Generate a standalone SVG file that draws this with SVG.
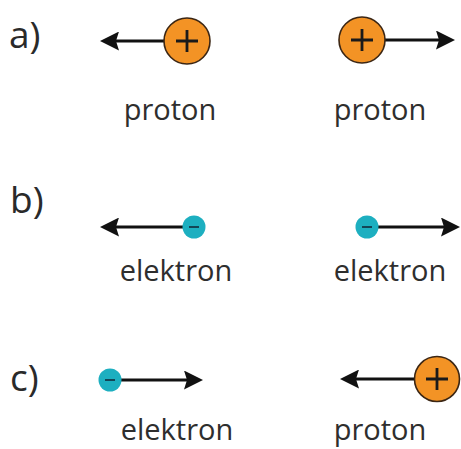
<svg xmlns="http://www.w3.org/2000/svg" width="461" height="449" viewBox="0 0 461 449">
  <defs>
    <marker id="ah" viewBox="0 0 19 19" refX="8" refY="9.5" markerWidth="19" markerHeight="19" markerUnits="userSpaceOnUse" orient="auto">
      <path d="M0,0 L19,9.5 L0,19 L3,9.5 z" fill="#111"/>
    </marker>
  </defs>
  <style>
    .lbl { font-family: "Open Sans", "Noto Sans", sans-serif; font-size: 37px; fill: #2a2a2a; }
    .txt { font-family: "Open Sans", "Noto Sans", sans-serif; font-size: 29px; fill: #2e2e2e; text-anchor: middle; }
    .arr { stroke: #111; stroke-width: 3.2; fill: none; marker-end: url(#ah); }
    .p { fill: #F39325; stroke: #3b2614; stroke-width: 1.6; }
    .e { fill: #1DAFC0; }
    .sign { stroke: #1a1a1a; stroke-width: 2.8; fill: none; }
    .esign { stroke: #123; stroke-width: 1.5; fill: none; }
  </style>
  <rect width="461" height="449" fill="#fff"/>

  <g id="labels">
    <text class="lbl" x="9" y="48">a)</text>
    <text class="lbl" x="10" y="213">b)</text>
    <text class="lbl" x="10" y="391">c)</text>
  </g>

  <g id="connectors">
    <line class="arr" x1="165" y1="41" x2="111" y2="41"/>
    <line class="arr" x1="385" y1="40" x2="444" y2="40"/>
    <line class="arr" x1="183" y1="227" x2="111" y2="227"/>
    <line class="arr" x1="378" y1="227" x2="449" y2="227"/>
    <line class="arr" x1="121" y1="380" x2="192" y2="380"/>
    <line class="arr" x1="415" y1="379" x2="351" y2="379"/>
  </g>

  <g id="proton-a1">
    <circle class="p" cx="187" cy="41" r="23"/>
    <path class="sign" d="M176,41 H198 M187,30 V52"/>
    <text class="txt" x="170" y="120">proton</text>
  </g>
  <g id="proton-a2">
    <circle class="p" cx="362" cy="40" r="23"/>
    <path class="sign" d="M351,40 H373 M362,29 V51"/>
    <text class="txt" x="380" y="120">proton</text>
  </g>
  <g id="elektron-b1">
    <circle class="e" cx="194" cy="227" r="11.5"/>
    <path class="esign" d="M189,227 H199"/>
    <text class="txt" x="176" y="281">elektron</text>
  </g>
  <g id="elektron-b2">
    <circle class="e" cx="367" cy="227" r="11.5"/>
    <path class="esign" d="M362,227 H372"/>
    <text class="txt" x="390" y="281">elektron</text>
  </g>
  <g id="elektron-c">
    <circle class="e" cx="110" cy="380" r="11.5"/>
    <path class="esign" d="M105,380 H115"/>
    <text class="txt" x="177" y="440">elektron</text>
  </g>
  <g id="proton-c">
    <circle class="p" cx="437" cy="379" r="22.5"/>
    <path class="sign" d="M426,379 H448 M437,368 V390"/>
    <text class="txt" x="380" y="440">proton</text>
  </g>
</svg>
